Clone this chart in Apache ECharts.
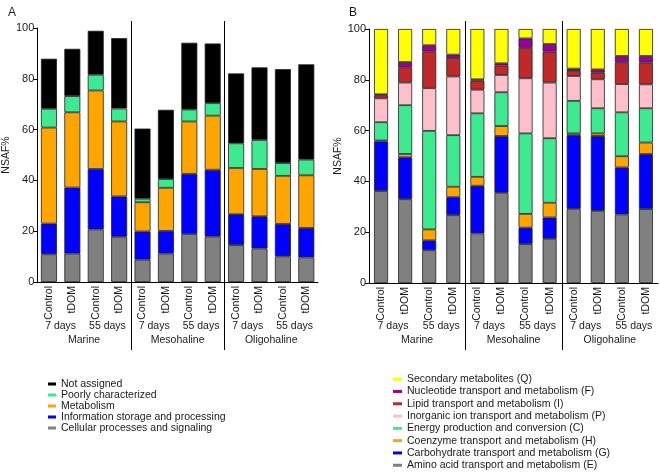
<!DOCTYPE html>
<html>
<head>
<meta charset="utf-8">
<script src="https://cdn.jsdelivr.net/npm/echarts@6/dist/echarts.min.js"></script>
<style>
  html, body { margin: 0; padding: 0; background: #fff; }
  #main { width: 660px; height: 472px; }
</style>
</head>
<body>
<div id="main"></div>
<script>
// x axis labels
var treatLabels = ['Control', 'tDOM', 'Control', 'tDOM', 'Control', 'tDOM', 'Control', 'tDOM', 'Control', 'tDOM', 'Control', 'tDOM'];
var dayLabels = ['7 days', '55 days', '7 days', '55 days', '7 days', '55 days'];
var siteLabels = ['Marine', 'Mesohaline', 'Oligohaline'];
var yTicks = [0, 20, 40, 60, 80, 100];

// panel A, stacked from bottom (NSAF%)
var cellular = [10.9, 11.2, 20.7, 17.8, 8.8, 11.2, 18.9, 17.9, 14.5, 13.2, 10.1, 9.7];
var infoStorage = [12.1, 26.0, 23.8, 15.9, 11.1, 8.9, 23.7, 26.3, 12.2, 12.7, 12.8, 11.6];
var metabolism = [37.8, 29.6, 30.9, 29.5, 11.5, 17.0, 20.6, 21.3, 18.2, 18.6, 18.9, 20.7];
var poorlyChar = [7.4, 6.4, 6.2, 5.1, 1.4, 3.4, 4.7, 4.9, 9.7, 11.4, 5.0, 6.2];
var notAssigned = [19.7, 18.6, 17.3, 27.7, 27.6, 27.3, 26.3, 23.5, 27.5, 28.6, 37.0, 37.5];

// panel B, stacked from bottom (NSAF%)
var aminoAcid = [36.2, 33.0, 12.9, 26.7, 19.5, 35.5, 15.3, 17.4, 29.2, 28.4, 27.0, 29.1];
var carbohydrate = [19.5, 16.5, 3.9, 7.1, 18.8, 22.4, 6.5, 8.4, 29.0, 29.5, 18.5, 21.7];
var coenzyme = [0.4, 1.3, 4.3, 4.1, 3.5, 3.9, 5.4, 5.8, 0.7, 1.0, 4.4, 4.5];
var energy = [7.2, 19.2, 38.8, 20.3, 25.0, 13.3, 31.7, 25.4, 12.8, 9.9, 17.3, 13.5];
var inorganicIon = [9.4, 8.9, 16.8, 23.1, 9.3, 6.8, 21.7, 21.9, 9.8, 11.4, 11.1, 9.4];
var lipid = [1.2, 6.0, 14.5, 7.3, 3.6, 3.7, 12.0, 12.2, 2.0, 2.6, 8.6, 8.6];
var nucleotide = [0.4, 2.1, 2.4, 1.3, 0.5, 0.9, 3.7, 3.0, 0.9, 1.3, 2.5, 2.6];
var secondary = [25.7, 13.0, 6.4, 10.1, 19.8, 13.5, 3.7, 5.9, 15.6, 15.9, 10.6, 10.6];

var font = "'Liberation Sans', Arial, sans-serif";
var txt = '#1a1a1a';

function barSeries(name, data, color, gi, width) {
    return {
        name: name,
        type: 'bar',
        stack: 'p' + gi,
        xAxisIndex: gi * 3,
        yAxisIndex: gi,
        data: data,
        barWidth: width,
        itemStyle: { color: color, borderColor: '#222', borderWidth: 0.8 }
    };
}

function mainX(gi) {
    return {
        type: 'category', gridIndex: gi, data: treatLabels,
        axisLine: { lineStyle: { color: '#000', width: 1 } },
        axisTick: { show: false },
        axisLabel: { interval: 0, rotate: 90, margin: 4, fontSize: 10.5, color: txt, fontFamily: font }
    };
}
function extraX(gi, data, margin) {
    return {
        type: 'category', gridIndex: gi, data: data, position: 'bottom',
        axisLine: { show: false }, axisTick: { show: false },
        axisLabel: { interval: 0, margin: margin, fontSize: 10.5, color: txt, fontFamily: font }
    };
}
function yAx(gi) {
    return {
        type: 'value', gridIndex: gi, min: 0, max: 100, interval: 20,
        name: 'NSAF%', nameLocation: 'middle', nameGap: 21,
        nameTextStyle: { fontSize: 10.5, color: txt, fontFamily: font },
        axisLine: { show: true, lineStyle: { color: '#000' } },
        axisTick: { show: true, length: 4, lineStyle: { color: '#000' } },
        splitLine: { show: false },
        axisLabel: { margin: 3, fontSize: 11, color: txt, fontFamily: font,
            formatter: function (v) { return yTicks.indexOf(v) >= 0 ? v : ''; } }
    };
}

var option = {
    animation: false,
    textStyle: { fontFamily: font },
    title: [
        { text: 'A', left: 3, top: 2, textStyle: { fontSize: 12, fontWeight: 'normal', color: txt } },
        { text: 'B', left: 344, top: 2, textStyle: { fontSize: 12, fontWeight: 'normal', color: txt } }
    ],
    grid: [
        { left: 28, right: 342, top: 28, bottom: 190 },
        { left: 369, right: 2, top: 29, bottom: 189 }
    ],
    xAxis: [
        mainX(0), extraX(0, dayLabels, 39), extraX(0, siteLabels, 53),
        mainX(1), extraX(1, dayLabels, 38), extraX(1, siteLabels, 52)
    ],
    yAxis: [yAx(0), yAx(1)],
    legend: [
        {
            orient: 'vertical', left: 48, top: 378.5, padding: 0, height: 90,
            itemWidth: 8, itemHeight: 3, itemGap: 0,
            icon: 'rect', itemStyle: { borderWidth: 0 },
            textStyle: { fontSize: 10.5, color: txt, lineHeight: 11, fontFamily: font },
            data: ['Not assigned', 'Poorly characterized', 'Metabolism',
                'Information storage and processing', 'Cellular processes and signaling']
        },
        {
            orient: 'vertical', left: 393, top: 373, padding: 0, height: 99,
            itemWidth: 9, itemHeight: 3, itemGap: 0,
            icon: 'rect', itemStyle: { borderWidth: 0 },
            textStyle: { fontSize: 10.5, color: txt, lineHeight: 12.3, fontFamily: font },
            data: ['Secondary metabolites (Q)', 'Nucleotide transport and metabolism (F)',
                'Lipid transport and metabolism (I)', 'Inorganic ion transport and metabolism (P)',
                'Energy production and conversion (C)', 'Coenzyme transport and metabolism (H)',
                'Carbohydrate transport and metabolism (G)', 'Amino acid transport and metabolism (E)']
        }
    ],
    series: [
        barSeries('Cellular processes and signaling', cellular, '#808080', 0, 16),
        barSeries('Information storage and processing', infoStorage, '#0000ff', 0, 16),
        barSeries('Metabolism', metabolism, '#ffa500', 0, 16),
        barSeries('Poorly characterized', poorlyChar, '#3fe98f', 0, 16),
        barSeries('Not assigned', notAssigned, '#000000', 0, 16),

        barSeries('Amino acid transport and metabolism (E)', aminoAcid, '#808080', 1, 14),
        barSeries('Carbohydrate transport and metabolism (G)', carbohydrate, '#0000ff', 1, 14),
        barSeries('Coenzyme transport and metabolism (H)', coenzyme, '#ffa500', 1, 14),
        barSeries('Energy production and conversion (C)', energy, '#3fe98f', 1, 14),
        barSeries('Inorganic ion transport and metabolism (P)', inorganicIon, '#ffc0cb', 1, 14),
        barSeries('Lipid transport and metabolism (I)', lipid, '#c0282a', 1, 14),
        barSeries('Nucleotide transport and metabolism (F)', nucleotide, '#990099', 1, 14),
        barSeries('Secondary metabolites (Q)', secondary, '#ffff00', 1, 14)
    ]
};

var chart = echarts.init(document.getElementById('main'), null, { renderer: 'canvas' });
chart.setOption(option);

// group separators between site groups, placed from the category axis
var lines = [];
[0, 3].forEach(function (xi) {
    [3, 7].forEach(function (i) {
        var a = chart.convertToPixel({ xAxisIndex: xi }, i);
        var b = chart.convertToPixel({ xAxisIndex: xi }, i + 1);
        var x = Math.round((a + b) / 2) + 0.5;
        lines.push({
            type: 'line', silent: true,
            shape: { x1: x, y1: 21, x2: x, y2: 350 },
            style: { stroke: '#000', lineWidth: 1 }
        });
    });
});
chart.setOption({ graphic: lines });
</script>
</body>
</html>
